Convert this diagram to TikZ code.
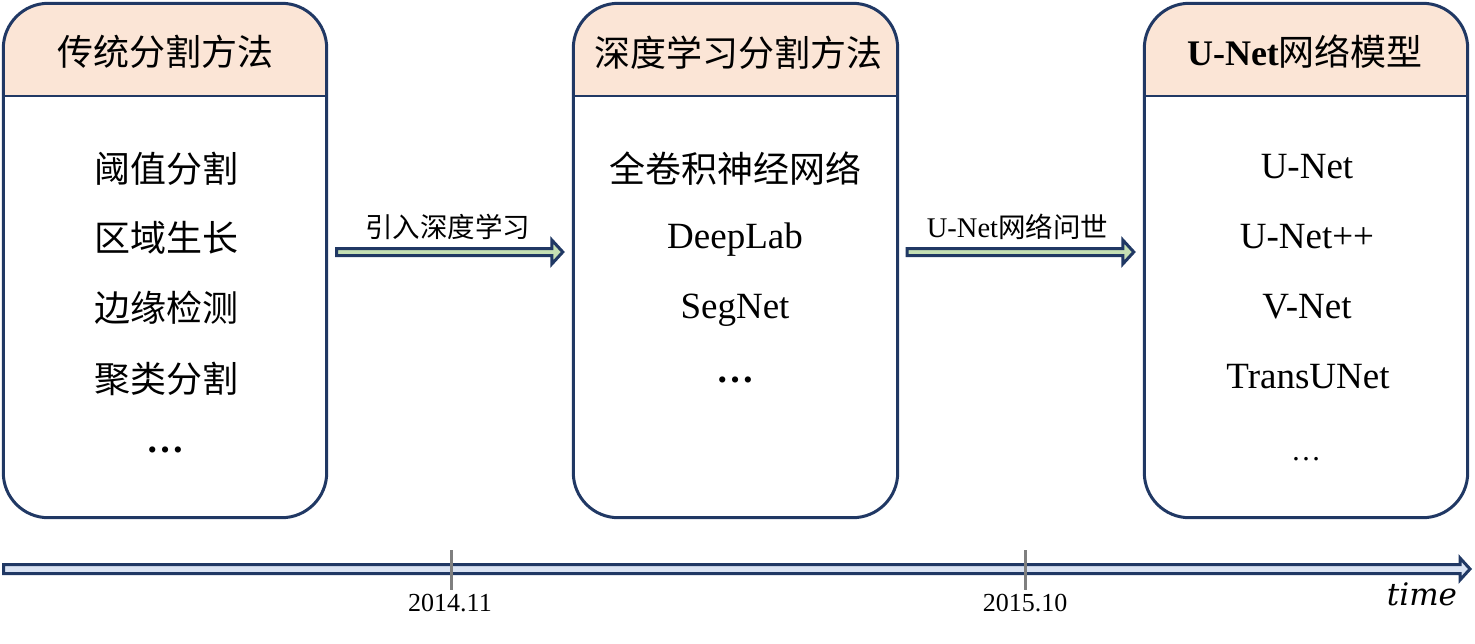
\documentclass[tikz,border=0pt]{standalone}
\usepackage{fontspec}
\setmainfont{Liberation Serif}
\newfontfamily\cjk{Noto Sans CJK SC}
\newfontfamily\timefont{DejaVu Serif}
\usetikzlibrary{calc}
\definecolor{navy}{HTML}{203864}
\definecolor{peach}{HTML}{FBE5D6}
\definecolor{arrowgreen}{HTML}{C5E0B4}
\definecolor{lineblue}{HTML}{DAE3F3}
\definecolor{tickgray}{HTML}{7F7F7F}
\begin{document}
\begin{tikzpicture}[x=1pt,y=-1pt,
  boxbg/.style={rectangle, fill=white, inner sep=0pt, minimum width=323pt, minimum height=514pt},
  outline/.style={draw=navy, line width=3pt, rounded corners=45pt},
  sepline/.style={draw=navy, line width=2.5pt},
  fatline/.style={draw=navy, line width=3pt, line join=miter},
  titletxt/.style={font=\fontsize{36}{40}\selectfont\cjk, inner sep=0pt},
  cjkitem/.style={font=\fontsize{36}{40}\selectfont\cjk, inner sep=0pt},
  latitem/.style={font=\fontsize{37}{40}\selectfont, inner sep=0pt, anchor=base},
  labeltxt/.style={font=\fontsize{27.5}{30}\selectfont\cjk, inner sep=0pt},
  datetxt/.style={font=\fontsize{26}{28}\selectfont, inner sep=0pt, anchor=base},
  ticksty/.style={draw=tickgray, line width=3pt}
]
\useasboundingbox (0,0) rectangle (1475,643);

% boxes
\node[boxbg] (b1) at (165,260.5) {};
\node[boxbg, minimum width=324pt] (b2) at (735.5,260.5) {};
\node[boxbg] (b3) at (1306,260.5) {};
\foreach \b in {b1,b2,b3}{
  \begin{scope}
    \clip ($(\b.north west)+(-3,-3)$) rectangle ($(\b.north east)+(3,92.5)$);
    \fill[peach, rounded corners=45pt] (\b.north west) rectangle (\b.south east);
  \end{scope}
  \draw[sepline] ($(\b.north west)+(0,92.5)$) -- ($(\b.north east)+(0,92.5)$);
  \draw[outline] (\b.north west) rectangle (\b.south east);
}

% titles
\node[titletxt] (t1) at (165,52) {传统分割方法};
\node[titletxt] (t2) at (738,53) {深度学习分割方法};
\node[titletxt, font=\fontsize{36}{40}\selectfont] (t3) at (1305,52) {\textbf{U-Net}{\cjk 网络模型}};

% box 1 items
\node[cjkitem] (i11) at (166,168.5) {阈值分割};
\node[cjkitem] (i12) at (166,238) {区域生长};
\node[cjkitem] (i13) at (166,308) {边缘检测};
\node[cjkitem] (i14) at (166,378.5) {聚类分割};
\node[latitem, font=\fontsize{38}{40}\selectfont\bfseries] (i15) at (165,452) {…};

% box 2 items
\node[cjkitem] (i21) at (735,169) {全卷积神经网络};
\node[latitem] (i22) at (735,248) {DeepLab};
\node[latitem] (i23) at (735,318) {SegNet};
\node[latitem, font=\fontsize{38}{40}\selectfont\bfseries] (i24) at (735,382) {…};

% box 3 items
\node[latitem] (i31) at (1307,178) {U-Net};
\node[latitem] (i32) at (1307,248) {U-Net++};
\node[latitem] (i33) at (1307,318) {V-Net};
\node[latitem] (i34) at (1308,388) {TransUNet};
\node[latitem, font=\fontsize{30}{32}\selectfont] (i35) at (1306,460) {…};

% arrows between boxes
\coordinate (a1s) at ($(b1.east)+(10,-8.5)$);
\coordinate (a1e) at ($(b2.west)+(-10.5,-8.5)$);
\coordinate (a2s) at ($(b2.east)+(9.5,-8.5)$);
\coordinate (a2e) at ($(b3.west)+(-10.5,-8.5)$);
\foreach \s/\e in {a1s/a1e, a2s/a2e}{
  \draw[fatline, fill=arrowgreen] ($(\s)+(0,-3.5)$) -- ($(\e)+(-11,-3.5)$) -- ($(\e)+(-11,-12)$) -- (\e)
     -- ($(\e)+(-11,12)$) -- ($(\e)+(-11,3.5)$) -- ($(\s)+(0,3.5)$) -- cycle;
}
\node[labeltxt] (l1) at ($(a1s)!0.5!(a1e)+(-2,-25)$) {引入深度学习};
\node[labeltxt] (l2) at ($(a2s)!0.5!(a2e)+(-3,-25)$) {{\rmfamily\fontsize{28.5}{30}\selectfont U-Net}网络问世};

% timeline
\coordinate (ts) at (3.5,569);
\coordinate (te) at (1470,569);
\draw[fatline, fill=lineblue] ($(ts)+(0,-4.5)$) -- ($(te)+(-10,-4.5)$) -- ($(te)+(-10,-11)$) -- (te)
   -- ($(te)+(-10,11)$) -- ($(te)+(-10,4.5)$) -- ($(ts)+(0,4.5)$) -- cycle;
\coordinate (k1a) at (451,550);
\coordinate (k1b) at (451,590);
\coordinate (k2a) at (1025,550);
\coordinate (k2b) at (1025,590);
\draw[ticksty] (k1a) -- (k1b);
\draw[ticksty] (k2a) -- (k2b);
\node[datetxt] (d1) at (450,611) {2014.11};
\node[datetxt] (d2) at (1025,611) {2015.10};
\node[inner sep=0pt, anchor=base, font=\fontsize{31}{33}\selectfont\timefont\itshape] (tm) at (1422,605) {time};
\end{tikzpicture}
\end{document}
